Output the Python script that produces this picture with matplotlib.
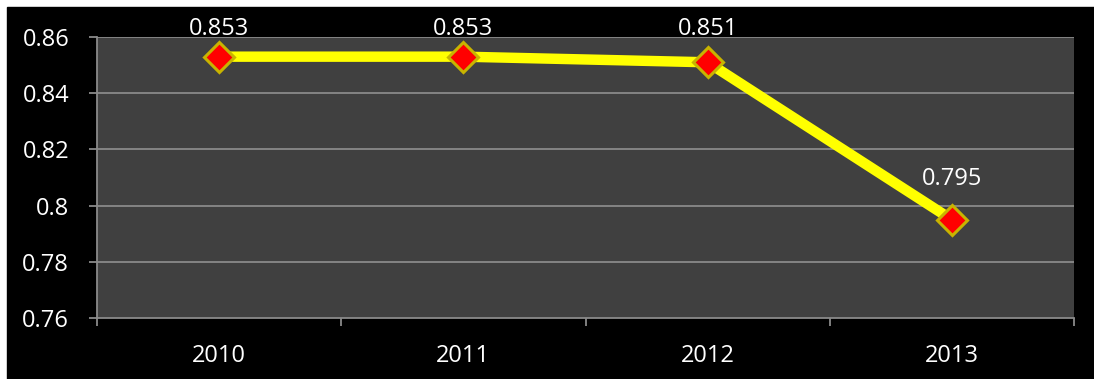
import numpy as np
import matplotlib
matplotlib.use('Agg')
import matplotlib.pyplot as plt
from matplotlib.patches import Rectangle

plt.rcParams.update({'font.family': ['Open Sans', 'DejaVu Sans']})

years = ['2010', '2011', '2012', '2013']
values = [0.853, 0.853, 0.851, 0.795]
y_ticks = [0.76, 0.78, 0.80, 0.82, 0.84, 0.86]
y_labels = ['0.76', '0.78', '0.8', '0.82', '0.84', '0.86']

W, H = 1094, 379
fig = plt.figure(figsize=(W / 100, H / 100), dpi=100, facecolor='white')
# black chart area with a thin white margin top/left
fig.patches.append(Rectangle((7 / W, 0), 1 - 7 / W, 1 - 7 / H,
                             transform=fig.transFigure, color='black', zorder=-10))

left, right, top, bottom = 97, 1074, 37, 318
ax = fig.add_axes([left / W, 1 - bottom / H, (right - left) / W, (bottom - top) / H])
ax.set_facecolor('#404040')

grid_c = '#8a8a8a'
fs = 17
ymin, ymax = 0.76, 0.86
ax.set_ylim(ymin, ymax)
ax.set_xlim(-0.5, len(years) - 0.5)
for y in y_ticks[1:]:
    ax.axhline(y, color=grid_c, lw=1.3, zorder=1)

x = np.arange(len(years))
ax.plot(x, values, color='#ffff00', lw=7.5, solid_capstyle='butt', zorder=3)
ax.plot(x, values, ls='none', marker='D', ms=15.5, mfc='#ff0000',
        mec='#c8b400', mew=2.2, zorder=4)

# value labels above points, kept just inside the top of the chart
span_px = bottom - top
for xi, v in zip(x, values):
    frac = (v - ymin) / (ymax - ymin)
    yf = min(frac + 41 / span_px, 1 + 8 / span_px)
    ax.text(xi, yf, f'{v:.3f}', transform=ax.get_xaxis_transform(),
            ha='center', va='center', color='white', fontsize=fs, zorder=5)

ax.set_yticks(y_ticks)
ax.set_yticklabels(y_labels)
ax.set_xticks(x)
ax.set_xticklabels(years)
ax.set_xticks(np.arange(-0.5, len(years)), minor=True)
ax.tick_params(axis='x', which='major', length=0, pad=19, colors='white', labelsize=fs)
ax.tick_params(axis='x', which='minor', length=6, width=1.3, color=grid_c)
ax.tick_params(axis='y', length=6, width=1.3, color=grid_c, pad=14,
               labelcolor='white', labelsize=fs)

for s in ['top', 'right']:
    ax.spines[s].set_visible(False)
for s in ['left', 'bottom']:
    ax.spines[s].set_color(grid_c)
    ax.spines[s].set_linewidth(1.3)

fig.savefig('out.png', dpi=100, facecolor='white')
